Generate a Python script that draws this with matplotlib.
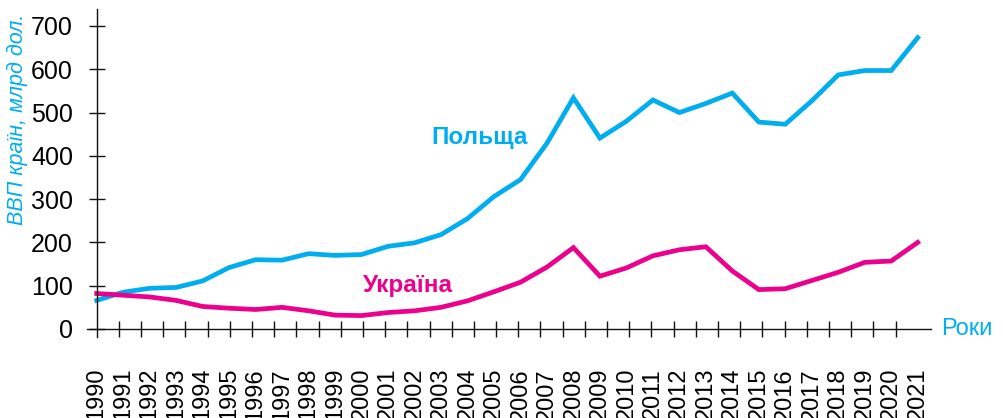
import matplotlib
matplotlib.use('Agg')
import matplotlib.pyplot as plt
import numpy as np
from matplotlib.ticker import FixedLocator

# Дані: ВВП країн, млрд дол.
years = list(range(1990, 2022))
poland = [66, 85, 94, 96, 111, 142, 160, 159, 174, 170, 172, 191, 199, 218, 255, 306,
          345, 429, 534, 441, 480, 529, 500, 521, 545, 478, 473, 527, 587, 597, 597, 673]
ukraine = [82, 78, 74, 66, 52, 48, 45, 50, 42, 32, 31, 38, 42, 50, 65, 86,
           108, 143, 188, 122, 141, 169, 183, 190, 134, 91, 93, 112, 131, 154, 157, 200]
y_ticks = [0, 100, 200, 300, 400, 500, 600, 700]

CYAN = '#00AEEF'
MAGENTA = '#EC008C'

fig = plt.figure(figsize=(10.04, 4.18), dpi=100)
W, H = 1004, 418
ax = fig.add_axes([87.3 / W, 1 - 337.3 / H, (930.7 - 87.3) / W, (337.3 - 9.3) / H])

ax.plot(years, poland, color=CYAN, lw=3.4, solid_joinstyle='miter')
ax.plot(years, ukraine, color=MAGENTA, lw=3.4, solid_joinstyle='miter')

ax.set_xlim(1990 - 0.355, 2021.49)
ax.set_ylim(-19.2, 738.5)

for s in ['top', 'right']:
    ax.spines[s].set_visible(False)
ax.spines['left'].set_position(('data', 1990))
ax.spines['bottom'].set_position(('data', 0))
for s in ['left', 'bottom']:
    ax.spines[s].set_linewidth(1.0)
    ax.spines[s].set_color('#111111')

# вісь Y
ax.set_yticks(y_ticks)
ax.set_yticklabels([str(v) for v in y_ticks], family='Liberation Sans', fontsize=18)
ax.tick_params(axis='y', direction='inout', length=12, width=1.0, pad=11,
               color='#111111')

# вісь X: підписи років (як в оригіналі, обрізані знизу) та окремі поділки
ax.set_xticks(years)
ax.set_xticklabels([str(y) for y in years], rotation=90, va='top',
                   family='Liberation Sans', fontsize=17)
ax.tick_params(axis='x', which='major', length=0, pad=28)
ax.xaxis.set_minor_locator(FixedLocator(np.linspace(1990, 2021, 38)))
ax.tick_params(axis='x', which='minor', direction='inout', length=12, width=1.0,
               color='#111111')

# підписи ліній
ax.text(2004.46, 443, 'Польща', color=CYAN, fontsize=17.5, fontweight='bold',
        family='Liberation Sans', ha='center', va='center')
ax.text(2001.75, 101, 'Україна', color=MAGENTA, fontsize=17.5, fontweight='bold',
        family='Liberation Sans', ha='center', va='center')

fig.text(941 / W, 1 - 329 / H, 'Роки', color=CYAN, fontsize=17,
         family='Liberation Sans', ha='left', va='center')
fig.text(17 / W, 1 - 119 / H, 'ВВП країн, млрд дол.', color=CYAN, fontsize=15.5,
         style='italic', family='Liberation Sans', rotation=90,
         ha='center', va='center')

fig.savefig('out.png', dpi=100)
